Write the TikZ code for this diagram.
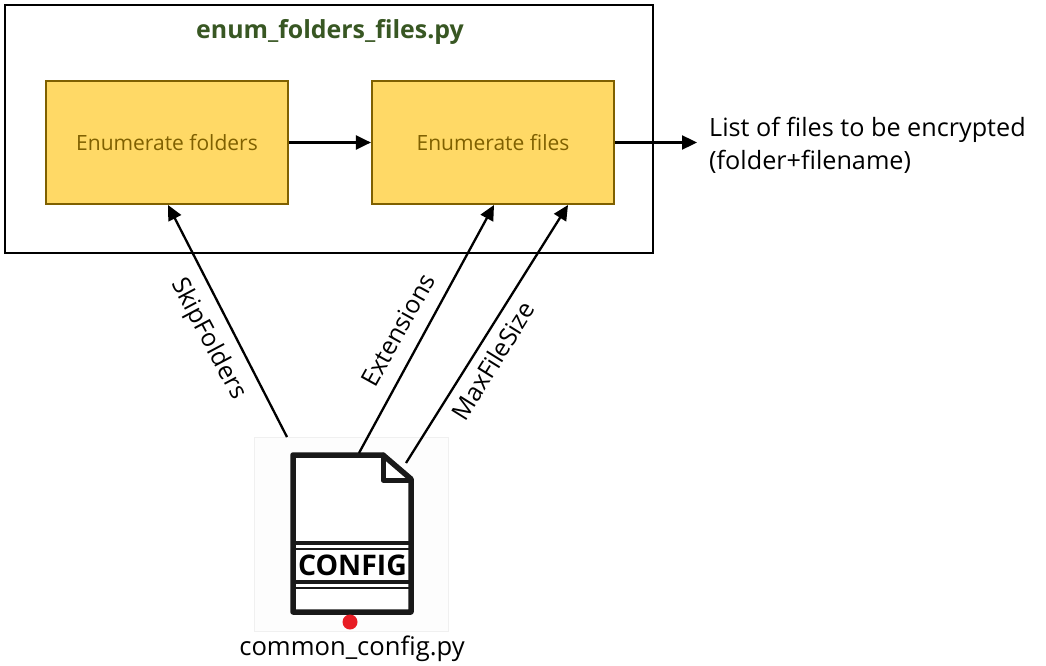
\documentclass[tikz,border=0pt]{standalone}
\usepackage{fontspec}
\setmainfont{Open Sans}
\usetikzlibrary{arrows.meta}
\definecolor{boxfill}{HTML}{FFD966}
\definecolor{boxline}{HTML}{7F6000}
\definecolor{titlegreen}{HTML}{385723}
\definecolor{dotred}{HTML}{E81C24}
\tikzset{
  outerbox/.style={draw=black,line width=2pt,minimum width=648pt,minimum height=248pt,inner sep=0pt},
  stagebox/.style={draw=boxline,fill=boxfill,line width=2.2pt,minimum width=242pt,minimum height=123pt,inner sep=0pt,text=boxline,font=\fontsize{21}{25}\selectfont},
  conn/.style={draw=black,line width=2.3pt,-{Triangle[length=15pt,width=14pt]}},
  lbl/.style={font=\fontsize{24.8}{33}\selectfont,inner sep=0pt,text=black},
  icon/.style={line width=5.5pt,line join=round,line cap=round,draw=black!90}
}
\begin{document}
\begin{tikzpicture}[x=1pt,y=-1pt]
\useasboundingbox (0,0) rectangle (1046,666);
\fill[white] (0,0) rectangle (1046,666);
\node[outerbox] (outer) at (329,129) {};
\node[font=\fontsize{24.9}{30}\selectfont\bfseries,text=titlegreen,inner sep=0pt] (title) at (330,32) {enum\_folders\_files.py};
\node[stagebox] (folders) at (167,142.5) {Enumerate folders};
\node[stagebox] (files) at (493,142.5) {Enumerate files};
\node[lbl,font=\fontsize{25.2}{33}\selectfont,align=left,anchor=west] (result) at (709,145) {List of files to be encrypted\\(folder+filename)};
\coordinate (resultin) at (697,142.5);
% config icon
\node[draw=black!6,line width=0.6pt,fill=black!0.6,minimum width=194pt,minimum height=194pt,inner sep=0pt] (tile) at (351,534) {};
\fill[white] (293,454) -- (383,454) -- (412,479) -- (412,612) -- (293,612) -- cycle;
\draw[icon] (293,455) -- (383,455) -- (411,479) -- (411,612) -- (293,612) -- cycle;
\draw[icon,line width=5pt] (383,455) -- (383,480) -- (411,480);
\draw[black!90,line width=3.5pt] (293,543) -- (411,543);
\draw[black!90,line width=1.8pt] (293,549) -- (411,549);
\draw[black!90,line width=3.5pt] (293,582) -- (411,582);
\draw[black!90,line width=1.8pt] (293,588) -- (411,588);
\node[font=\fontsize{28.4}{33}\selectfont\bfseries,text=black,inner sep=0pt] (cfg) at (352.5,565.5) {CONFIG};
\fill[dotred] (350,622) circle (7.5);
\node[lbl,font=\fontsize{25.6}{30}\selectfont] (cfgname) at (352,649) {common\_config.py};
\coordinate (skipstart) at (287,437);
\coordinate (extstart) at (359,453);
\coordinate (maxstart) at (406,463);
\coordinate (extend) at (494,205);
\coordinate (maxend) at (568,205);
\coordinate (skipend) at (168,205);
\draw[conn] (folders.east) -- (files.west);
\draw[conn] (files.east) -- (resultin);
\draw[conn] (skipstart) -- (skipend);
\draw[conn] (extstart) -- (extend);
\draw[conn] (maxstart) -- (maxend);
\node[lbl,rotate=-62] (skip) at (208,339) {SkipFolders};
\node[lbl,rotate=61] (ext) at (398,330) {Extensions};
\node[lbl,rotate=58] (maxsize) at (493,361) {MaxFileSize};
\end{tikzpicture}
\end{document}
